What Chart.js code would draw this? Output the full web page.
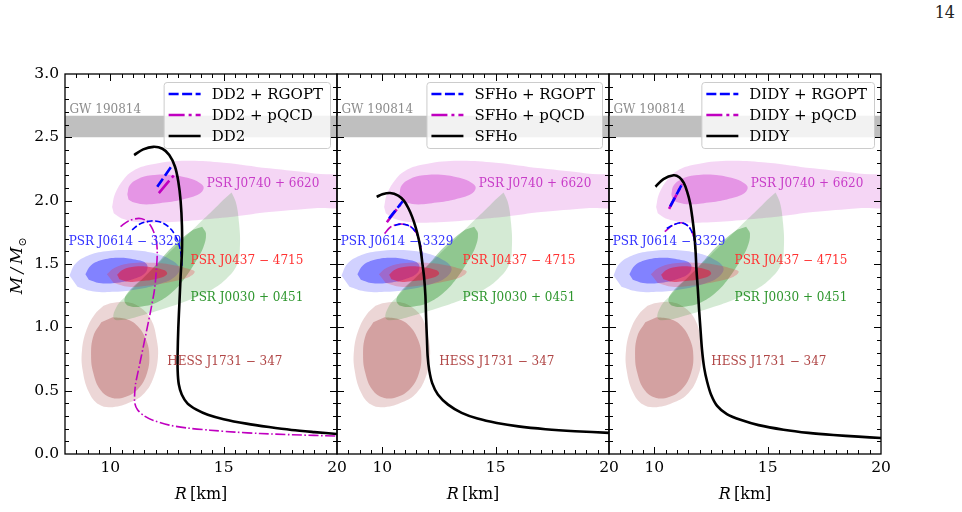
<!DOCTYPE html>
<html><head><meta charset="utf-8">
<script src="https://cdn.jsdelivr.net/npm/chart.js@4.4.1/dist/chart.umd.min.js"></script>
<style>
html,body{margin:0;padding:0;background:#fff;width:962px;height:512px;overflow:hidden;position:relative;}
canvas{position:absolute;top:0;}
#page{position:absolute;right:7px;top:3px;font:16px 'DejaVu Serif',serif;color:#222;}
</style></head><body>
<div id="page">14</div>
<canvas id="c1" width="357" height="512" style="left:0px"></canvas>
<canvas id="c2" width="302" height="512" style="left:327px"></canvas>
<canvas id="c3" width="302" height="512" style="left:599px"></canvas>
<script>
// ---------- data (R in km, M in solar masses) ----------
const radiusTicks = [10, 15, 20];
const massTicks = [0, 0.5, 1, 1.5, 2, 2.5, 3];
const eosNames = ['DD2', 'SFHo', 'DIDY'];
const gw190814Band = [2.50, 2.67];

const j0740Outer = [[10.08,1.95],[10.2,2.05],[10.55,2.16],[11.0,2.235],[11.8,2.285],[13.2,2.315],[15.0,2.30],[17.0,2.255],[19.0,2.215],[20.6,2.17],[20.7,1.97],[19.0,1.94],[17.0,1.91],[15.5,1.875],[14.0,1.85],[12.5,1.83],[11.3,1.83],[10.5,1.86],[10.15,1.9]];
const j0740Inner = [[10.75,2.05],[10.85,2.12],[11.2,2.17],[11.8,2.20],[12.6,2.205],[13.4,2.18],[13.95,2.14],[14.12,2.10],[13.9,2.05],[13.2,2.01],[12.4,1.985],[11.6,1.97],[11.05,1.985],[10.8,2.01]];
const j0030Outer = [[15.35,2.065],[15.55,1.98],[15.68,1.82],[15.72,1.65],[15.6,1.50],[15.1,1.38],[14.3,1.28],[13.4,1.21],[12.5,1.155],[11.5,1.10],[10.6,1.06],[10.15,1.07],[10.3,1.17],[10.7,1.25],[11.4,1.38],[12.2,1.52],[13.0,1.66],[13.8,1.80],[14.5,1.92],[15.0,2.01]];
const j0030Inner = [[14.05,1.795],[14.22,1.74],[14.1,1.63],[13.7,1.50],[13.25,1.38],[12.75,1.28],[12.1,1.20],[11.4,1.165],[10.8,1.17],[10.62,1.22],[10.9,1.30],[11.45,1.39],[12.05,1.50],[12.65,1.62],[13.2,1.71],[13.65,1.77]];
const j0614Outer = [[8.2,1.41],[8.45,1.50],[9.0,1.565],[9.8,1.60],[10.8,1.61],[11.8,1.59],[12.6,1.54],[13.05,1.47],[12.85,1.40],[12.2,1.345],[11.2,1.30],[10.2,1.28],[9.2,1.285],[8.55,1.32]];
const j0614Inner = [[8.9,1.42],[9.15,1.49],[9.7,1.535],[10.4,1.55],[11.1,1.535],[11.6,1.50],[11.55,1.43],[11.0,1.38],[10.2,1.35],[9.5,1.35],[9.05,1.375]];
const j0437Outer = [[9.85,1.42],[10.2,1.47],[10.9,1.505],[11.8,1.51],[12.7,1.495],[13.4,1.465],[13.72,1.44],[13.5,1.40],[12.7,1.36],[11.7,1.33],[10.8,1.32],[10.15,1.35]];
const j0437Inner = [[10.3,1.415],[10.55,1.455],[11.1,1.48],[11.8,1.475],[12.4,1.45],[12.5,1.42],[12.1,1.385],[11.4,1.365],[10.8,1.36],[10.4,1.38]];
const hessOuter = [[10.0,1.19],[10.7,1.20],[11.3,1.16],[11.8,1.06],[12.05,0.90],[12.1,0.76],[11.9,0.60],[11.5,0.48],[10.9,0.41],[10.1,0.37],[9.5,0.39],[9.05,0.49],[8.78,0.66],[8.75,0.82],[8.95,0.98],[9.3,1.10],[9.7,1.17]];
const hessInner = [[10.1,1.08],[10.7,1.065],[11.2,1.01],[11.58,0.90],[11.72,0.78],[11.62,0.64],[11.25,0.52],[10.65,0.45],[10.05,0.445],[9.55,0.51],[9.25,0.64],[9.15,0.78],[9.25,0.93],[9.6,1.04]];

const sourceNames = ['GW 190814','PSR J0740 + 6620','PSR J0614 \u2212 3329','PSR J0437 \u2212 4715','PSR J0030 + 0451','HESS J1731 \u2212 347'];
const sourceLabelR = [8.2, 14.25, 8.16, 13.54, 13.54, 12.51];
const sourceLabelM = [2.72, 2.13, 1.676, 1.526, 1.23, 0.724];

// DD2
const dd2Hadronic = [[11.05,2.36],[11.45,2.405],[11.9,2.425],[12.3,2.41],[12.6,2.36],[12.85,2.27],[13.0,2.15],[13.1,2.0],[13.16,1.8],[13.16,1.6],[13.1,1.4],[13.05,1.2],[13.0,1.0],[12.97,0.8],[12.97,0.66],[13.02,0.55],[13.15,0.47],[13.4,0.40],[13.8,0.35],[14.3,0.31],[15.0,0.275],[16.0,0.24],[17.0,0.213],[18.0,0.19],[19.0,0.173],[20.0,0.158]];
const dd2RgoptBranch = [[12.07,2.11],[12.75,2.285]];
const dd2RgoptArc = [[10.96,1.77],[11.3,1.815],[11.8,1.84],[12.3,1.825],[12.7,1.77],[12.98,1.68],[13.12,1.58],[13.16,1.48]];
const dd2PqcdBranch = [[12.14,2.06],[12.8,2.2]];
const dd2PqcdArc = [[10.45,1.795],[10.8,1.84],[11.26,1.86],[11.6,1.84],[11.85,1.78],[12.02,1.69],[12.07,1.6],[12.03,1.45],[11.95,1.3],[11.8,1.15],[11.63,1.0],[11.48,0.87],[11.33,0.74],[11.2,0.63],[11.11,0.55],[11.07,0.46],[11.08,0.40],[11.2,0.35],[11.5,0.30],[11.9,0.265],[12.6,0.228],[13.4,0.205],[14.4,0.188],[15.5,0.173],[16.6,0.162],[18.0,0.152],[20.0,0.142]];
// SFHo
const sfhoHadronic = [[9.75,2.03],[10.0,2.05],[10.34,2.06],[10.7,2.04],[10.95,2.0],[11.15,1.94],[11.32,1.87],[11.47,1.79],[11.6,1.70],[11.7,1.6],[11.77,1.5],[11.84,1.4],[11.9,1.25],[11.93,1.08],[11.97,0.9],[12.0,0.77],[12.07,0.66],[12.2,0.56],[12.45,0.47],[12.9,0.39],[13.5,0.325],[14.2,0.28],[15.05,0.245],[16.0,0.218],[17.2,0.196],[18.5,0.18],[20.0,0.167]];
const sfhoRgoptBranch = [[10.3,1.86],[10.9,1.995]];
const sfhoRgoptArc = [[10.55,1.805],[10.8,1.815],[11.2,1.8],[11.5,1.745],[11.68,1.65],[11.75,1.55]];
const sfhoPqcdBranch = [[10.2,1.83],[10.8,1.97]];
const sfhoPqcdArc = [[10.1,1.74],[10.35,1.79],[10.75,1.815],[11.2,1.8],[11.5,1.745],[11.68,1.65],[11.75,1.55]];
// DIDY
const didyHadronic = [[10.05,2.11],[10.4,2.17],[10.85,2.20],[11.1,2.185],[11.3,2.14],[11.45,2.07],[11.58,1.98],[11.68,1.86],[11.76,1.74],[11.82,1.6],[11.86,1.45],[11.92,1.3],[11.97,1.15],[12.03,1.0],[12.1,0.83],[12.2,0.68],[12.33,0.57],[12.5,0.47],[12.77,0.38],[13.2,0.315],[13.8,0.27],[14.6,0.228],[15.7,0.192],[16.8,0.167],[17.9,0.15],[19.0,0.137],[20.0,0.126]];
const didyRgoptBranch = [[10.7,1.955],[11.28,2.15]];
const didyRgoptArc = [[10.55,1.78],[10.8,1.805],[11.19,1.826],[11.52,1.795],[11.74,1.715],[11.8,1.62]];
const didyPqcdBranch = [[10.65,1.935],[11.22,2.13]];
const didyPqcdArc = [[10.46,1.755],[10.8,1.805],[11.19,1.826],[11.52,1.795],[11.74,1.715],[11.8,1.62]];

// ---------- styling / construction ----------
const SERIF = "'DejaVu Serif', serif";
Chart.defaults.font.family = SERIF;
Chart.defaults.color = '#000';

const BLUE = '#0000ff', MAG = '#c000c0';
const sourceColors = ['#8c8c8c', '#c83cc8', '#3232ff', '#ff3232', '#2e962e', '#b04646'];

const pts = arr => arr.map(([x, y]) => ({x, y}));
function blob(arr, color) {
  return {data: pts(arr), showLine: true, fill: 'shape', backgroundColor: color,
    borderColor: 'rgba(0,0,0,0)', borderWidth: 0, tension: 0.4, pointRadius: 0};
}
function curve(arr, color, width, dash, label, rank, legendDash) {
  return {data: pts(arr), showLine: true, fill: false, borderColor: color, borderWidth: width,
    borderDash: dash, tension: 0.3, pointRadius: 0, label: label, legendRank: rank,
    legendDash: legendDash || dash, borderCapStyle: 'butt'};
}
const bandPoly = [[7.5, gw190814Band[0]], [20.5, gw190814Band[0]], [20.5, gw190814Band[1]], [7.5, gw190814Band[1]]];

function buildDatasets(p) {
  const band = blob(bandPoly, '#bfbfbf'); band.tension = 0;
  const ds = [
    band,
    blob(j0740Outer, 'rgba(204,51,204,0.20)'),
    blob(j0740Inner, 'rgba(204,51,204,0.40)'),
    blob(hessOuter, 'rgba(160,50,50,0.20)'),
    blob(hessInner, 'rgba(160,50,50,0.32)'),
    blob(j0030Outer, 'rgba(0,128,0,0.17)'),
    blob(j0030Inner, 'rgba(0,128,0,0.32)'),
    blob(j0614Outer, 'rgba(0,0,255,0.18)'),
    blob(j0614Inner, 'rgba(0,0,255,0.38)'),
    blob(j0437Outer, 'rgba(240,30,50,0.25)'),
    blob(j0437Inner, 'rgba(230,20,60,0.55)'),
    curve(p.pqcdArc, MAG, 1.6, [10, 2.5, 1.6, 2.5]),
    curve(p.rgoptArc, BLUE, 1.6, [6, 2.5]),
    curve(p.pqcdBranch, MAG, 2.6, [16, 4, 3, 4], p.name + ' + pQCD', 1),
    curve(p.rgoptBranch, BLUE, 2.6, [10, 3.5], p.name + ' + RGOPT', 0),
    curve(p.hadronic, '#000', 2.6, [], p.name, 2)
  ];
  const n = ds.length;
  ds.forEach((d, i) => { d.order = n - i; });
  return ds;
}

function line(ctx, x1, y1, x2, y2) { ctx.beginPath(); ctx.moveTo(x1, y1); ctx.lineTo(x2, y2); ctx.stroke(); }

const decor = {
  id: 'decor',
  afterDatasetsDraw(chart, args, o) {
    const ctx = chart.ctx, xs = chart.scales.x, ys = chart.scales.y, a = chart.chartArea;
    // source labels
    ctx.save();
    ctx.beginPath(); ctx.rect(a.left, a.top, a.right - a.left, a.bottom - a.top); ctx.clip();
    ctx.textBaseline = 'middle'; ctx.textAlign = 'left';
    sourceNames.forEach((t, i) => {
      ctx.font = '12px ' + SERIF;
      ctx.fillStyle = sourceColors[i];
      ctx.fillText(t, xs.getPixelForValue(sourceLabelR[i]), ys.getPixelForValue(sourceLabelM[i]));
    });
    ctx.restore();

    // frame and inward ticks
    ctx.save();
    ctx.strokeStyle = '#000';
    ctx.lineWidth = 1;
    for (let i = 17; i < 40; i++) {
      const v = i / 2;
      const len = radiusTicks.includes(v) ? 7 : 4;
      const x = Math.round(xs.getPixelForValue(v)) + 0.5;
      line(ctx, x, a.bottom, x, a.bottom - len);
      line(ctx, x, a.top, x, a.top + len);
    }
    for (let i = 1; i < 30; i++) {
      const len = i % 5 === 0 ? 7 : 4;
      const y = Math.round(ys.getPixelForValue(i / 10)) + 0.5;
      line(ctx, a.left, y, a.left + len, y);
      line(ctx, a.right, y, a.right - len, y);
    }
    ctx.lineWidth = 1.3;
    ctx.strokeRect(a.left, a.top, a.right - a.left, a.bottom - a.top);
    ctx.restore();

    // legend
    const entries = chart.data.datasets.filter(d => d.label).sort((p, q) => p.legendRank - q.legendRank);
    ctx.save();
    ctx.font = '15px ' + SERIF;
    const tw = Math.max(...entries.map(e => ctx.measureText(e.label).width));
    const bw = 5 + 32 + 11 + tw + 7, bh = 66;
    const x0 = a.right - 7 - bw, y0 = a.top + 8;
    ctx.beginPath();
    ctx.roundRect(x0 + 0.5, y0 + 0.5, bw, bh, 3);
    ctx.fillStyle = 'rgba(255,255,255,0.8)'; ctx.fill();
    ctx.strokeStyle = '#cccccc'; ctx.lineWidth = 1; ctx.stroke();
    entries.forEach((e, i) => {
      const y = y0 + 12 + i * 21;
      ctx.strokeStyle = e.borderColor; ctx.lineWidth = e.borderWidth;
      ctx.setLineDash(e.legendDash); ctx.lineCap = 'butt';
      line(ctx, x0 + 5, y, x0 + 37, y);
      ctx.setLineDash([]);
      ctx.fillStyle = '#000'; ctx.textBaseline = 'middle'; ctx.textAlign = 'left';
      ctx.fillText(e.label, x0 + 48, y + 1);
    });
    ctx.restore();

    // axis titles
    ctx.save();
    ctx.fillStyle = '#000'; ctx.textBaseline = 'alphabetic';
    const cx = (a.left + a.right) / 2;
    ctx.font = 'italic 16px ' + SERIF;
    const wR = ctx.measureText('R').width;
    ctx.font = '16px ' + SERIF;
    const wK = ctx.measureText('\u2009[km]').width;
    let xx = cx - (wR + wK) / 2;
    ctx.font = 'italic 16px ' + SERIF; ctx.fillText('R', xx, 499);
    ctx.font = '16px ' + SERIF; ctx.fillText('\u2009[km]', xx + wR, 499);
    if (o.yTitle) {
      ctx.translate(22, 266); ctx.rotate(-Math.PI / 2);
      ctx.font = 'italic 17px ' + SERIF;
      const t1 = 'M\u2009/\u2009M';
      const w1 = ctx.measureText(t1).width;
      ctx.font = '11px ' + SERIF;
      const w2 = ctx.measureText('\u2299').width;
      const s = -(w1 + w2) / 2;
      ctx.font = 'italic 17px ' + SERIF; ctx.fillText(t1, s, 0);
      ctx.font = '11px ' + SERIF; ctx.fillText('\u2299', s + w1 + 0.5, 4);
    }
    ctx.restore();
  }
};

const panels = [
  {id: 'c1', name: eosNames[0], hadronic: dd2Hadronic, rgoptBranch: dd2RgoptBranch, rgoptArc: dd2RgoptArc, pqcdBranch: dd2PqcdBranch, pqcdArc: dd2PqcdArc, showY: true, padL: 0, padR: 20},
  {id: 'c2', name: eosNames[1], hadronic: sfhoHadronic, rgoptBranch: sfhoRgoptBranch, rgoptArc: sfhoRgoptArc, pqcdBranch: sfhoPqcdBranch, pqcdArc: sfhoPqcdArc, showY: false, padL: 10, padR: 20},
  {id: 'c3', name: eosNames[2], hadronic: didyHadronic, rgoptBranch: didyRgoptBranch, rgoptArc: didyRgoptArc, pqcdBranch: didyPqcdBranch, pqcdArc: didyPqcdArc, showY: false, padL: 10, padR: 20}
];

panels.forEach(p => {
  new Chart(document.getElementById(p.id), {
    type: 'scatter',
    data: {datasets: buildDatasets(p)},
    plugins: [decor],
    options: {
      responsive: false, animation: false, devicePixelRatio: 1,
      layout: {padding: {left: p.padL, right: p.padR, top: 74, bottom: 0}},
      elements: {point: {radius: 0, hoverRadius: 0}},
      plugins: {legend: {display: false}, tooltip: {enabled: false}, decor: {yTitle: p.showY}},
      events: [],
      scales: {
        x: {
          type: 'linear', min: 8, max: 20,
          grid: {display: false, drawTicks: false}, border: {display: false},
          ticks: {padding: 5, font: {size: 15.5, family: SERIF}, color: '#000', maxRotation: 0,
                  callback: v => String(v)},
          afterBuildTicks: s => { s.ticks = radiusTicks.map(v => ({value: v})); },
          afterFit: s => { s.height = 58; }
        },
        y: {
          type: 'linear', min: 0, max: 3,
          grid: {display: false, drawTicks: false}, border: {display: false},
          ticks: {display: p.showY, padding: 6, font: {size: 15.5, family: SERIF}, color: '#000',
                  callback: v => Number(v).toFixed(1)},
          afterBuildTicks: s => { s.ticks = massTicks.map(v => ({value: v})); },
          afterFit: s => { s.width = p.showY ? 65 : 0; }
        }
      }
    }
  });
});
</script>
</body></html>
